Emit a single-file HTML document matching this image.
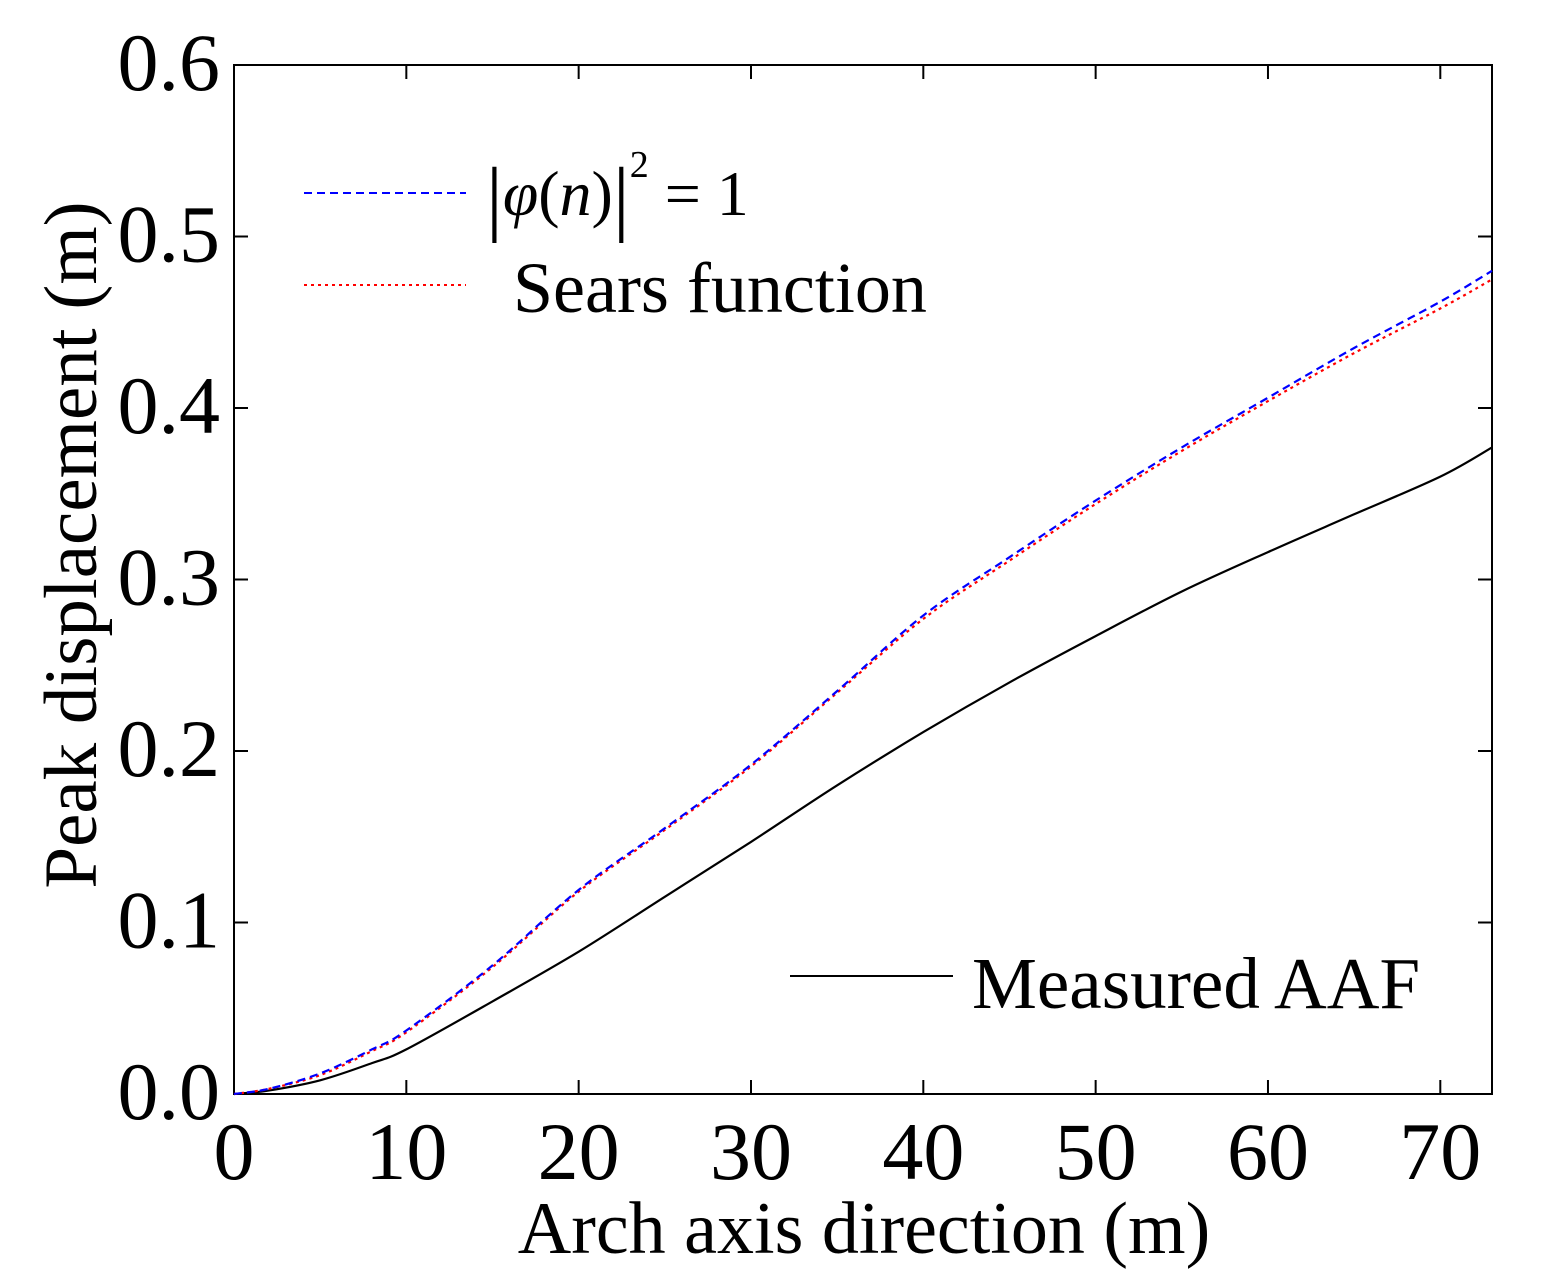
<!DOCTYPE html>
<html><head><meta charset="utf-8"><style>
body{margin:0;background:#fff;}
svg{display:block;font-family:"Liberation Serif",serif;}
</style></head><body>
<svg id="chart" width="1544" height="1283" xmlns="http://www.w3.org/2000/svg"></svg>
<script>
const xs = [0,2,5,8,10,15,20,25,30,35,40,45,50,55,60,65,70,73];
const blueVals = [0,0.003,0.012,0.026,0.037,0.075,0.119,0.155,0.192,0.235,0.279,0.313,0.346,0.377,0.406,0.435,0.462,0.480];
const redVals  = [0,0.003,0.011,0.025,0.036,0.074,0.118,0.154,0.191,0.234,0.277,0.311,0.344,0.375,0.404,0.432,0.458,0.475];
const blackVals= [0,0.002,0.008,0.018,0.026,0.054,0.083,0.115,0.147,0.180,0.211,0.240,0.267,0.293,0.316,0.338,0.360,0.377];
const xTicks = [0,10,20,30,40,50,60,70];
const yTicks = [0.0,0.1,0.2,0.3,0.4,0.5,0.6];

const L=234,R=1492,T=65,B=1094;
const sx=v=>L+(v-0)/(73-0)*(R-L);
const sy=v=>B-(v/0.6)*(B-T);
const svg=document.getElementById('chart');
const NS='http://www.w3.org/2000/svg';
function mk(tag,attrs,parent){const e=document.createElementNS(NS,tag);for(const k in attrs)e.setAttribute(k,attrs[k]);(parent||svg).appendChild(e);return e;}

const frame=mk('rect',{x:L,y:T,width:R-L,height:B-T,fill:'none',stroke:'#000','stroke-width':2});



xTicks.forEach(v=>{
  const x=sx(v);
  const t1=mk('line',{x1:x,x2:x,y1:B,y2:B-14,stroke:'#000','stroke-width':2});
  
  
  const t2=mk('line',{x1:x,x2:x,y1:T,y2:T+14,stroke:'#000','stroke-width':2});
  
  
  const tx=mk('text',{x:x,y:B+85,'font-size':82,'text-anchor':'middle'});
  tx.textContent=v;
  
  
});
yTicks.forEach(v=>{
  const y=sy(v);
  const t1=mk('line',{x1:L,x2:L+14,y1:y,y2:y,stroke:'#000','stroke-width':2});
  
  
  const t2=mk('line',{x1:R,x2:R-14,y1:y,y2:y,stroke:'#000','stroke-width':2});
  
  
  const tx=mk('text',{x:L-14,y:y+25,'font-size':82,'text-anchor':'end'});
  tx.textContent=v.toFixed(1);
  
  
});

function series(vals,color,dash,name){
  const P=xs.map((x,i)=>[sx(x),sy(vals[i])]);
  let d='M'+P[0][0].toFixed(1)+','+P[0][1].toFixed(1);
  for(let i=0;i<P.length-1;i++){
    const p0=P[Math.max(0,i-1)],p1=P[i],p2=P[i+1],p3=P[Math.min(P.length-1,i+2)];
    const c1=[p1[0]+(p2[0]-p0[0])/6,p1[1]+(p2[1]-p0[1])/6];
    const c2=[p2[0]-(p3[0]-p1[0])/6,p2[1]-(p3[1]-p1[1])/6];
    d+=' C'+c1.map(n=>n.toFixed(1)).join(',')+' '+c2.map(n=>n.toFixed(1)).join(',')+' '+p2.map(n=>n.toFixed(1)).join(',');
  }
  const p=mk('path',{d:d,fill:'none',stroke:color,'stroke-width':2.2,'stroke-dasharray':dash});
  
  
}
series(blackVals,'#000','none','measured-aaf-line');
series(redVals,'#f00','3,4','sears-function-line');
series(blueVals,'#00f','8,5','phi-equals-one-line');

const xt=mk('text',{x:864,y:1253,'font-size':74,'text-anchor':'middle'});
xt.textContent='Arch axis direction (m)';


const yt=mk('text',{x:0,y:0,'font-size':75,'text-anchor':'middle',transform:'translate(96,545) rotate(-90)'});
yt.textContent='Peak displacement (m)';



// legend
const lg=mk('g',{});


const l1=mk('line',{x1:304,x2:466,y1:193,y2:193,stroke:'#00f','stroke-width':2,'stroke-dasharray':'8,5'},lg);


const lt1=mk('text',{x:486,y:215,'font-size':64},lg);
lt1.innerHTML='<tspan font-size="84" dy="10">|</tspan><tspan font-style="italic" dy="-10">φ</tspan>(<tspan font-style="italic">n</tspan>)<tspan font-size="84" dy="10">|</tspan><tspan font-size="38" dy="-48">2</tspan><tspan dy="38"> = 1</tspan>';


const l2=mk('line',{x1:304,x2:466,y1:285,y2:285,stroke:'#f00','stroke-width':2,'stroke-dasharray':'3,4'},lg);


const lt2=mk('text',{x:513,y:312,'font-size':72},lg);
lt2.textContent='Sears function';


const l3=mk('line',{x1:790,x2:953,y1:976,y2:976,stroke:'#000','stroke-width':2},lg);


const lt3=mk('text',{x:972,y:1008,'font-size':73},lg);
lt3.textContent='Measured AAF';


</script>
</body></html>
